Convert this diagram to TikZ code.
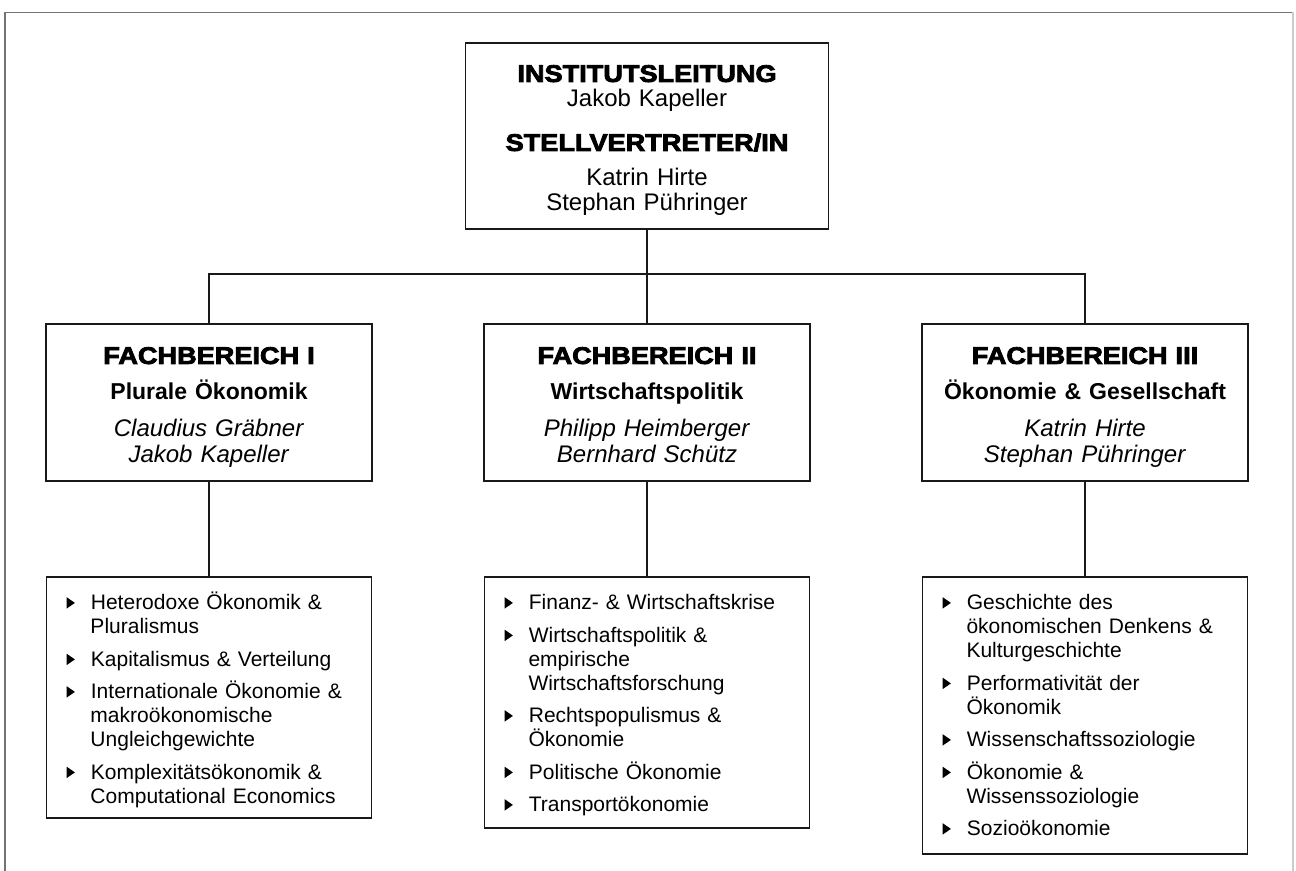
\documentclass[tikz,border=0pt]{standalone}
\usepackage{fontspec}
\setmainfont{Liberation Sans}
\newfontfamily\heavyfont[FakeStretch=1.13,FakeBold=3.5]{Liberation Sans Bold}
\usepackage{enumitem}

% small black triangle used as bullet
\newcommand{\pfeil}{\tikz[baseline=0pt]\fill (0pt,0.6pt) -- (4.2pt,3.5pt) -- (0pt,6.4pt) -- cycle;}
\newlist{themen}{itemize}{1}
\setlist[themen]{label=\pfeil,leftmargin=22pt,labelwidth=4pt,labelsep=8pt,align=left,
  itemsep=4.25pt,parsep=0pt,topsep=0pt,partopsep=0pt}

\begin{document}
\begin{tikzpicture}[x=0.5pt,y=-0.5pt]
    \newcommand{\mitte}{647}   % middle column
    \newcommand{\links}{209}   % left column
    \newcommand{\rechts}{1085} % right column
    \newcommand{\fbtop}{323}   % top of the Fachbereich boxes
    \newcommand{\listtop}{576} % top of the topic lists

    % set the styles of the boxes
    \tikzset{
        box/.style={draw=black!90, line width=0.9pt, inner xsep=0pt, inner ysep=0pt, anchor=north, align=center},
        leitung/.style={box, text width=181.5pt, text height=19.5pt, text depth=73.5pt,
            font=\fontsize{12pt}{12.5pt}\selectfont},
        fach/.style={box, text width=163pt, text height=20pt, text depth=58.5pt,
            font=\fontsize{12pt}{13pt}\selectfont},
        themenbox/.style={box, text width=162.5pt, inner ysep=4.5pt, text height=0pt, text depth=#1,
            align=left, font=\fontsize{10.5pt}{12pt}\selectfont},
        linie/.style={draw=black!90, line width=0.8pt}
    }

    \useasboundingbox (0,0) rectangle (1296,871);

    % frame
    \draw[black!55, line width=0.8pt] (5,871) -- (5,12.5) -- (1293,12.5);
    \draw[black!20, line width=0.8pt] (1293,12.5) -- (1293,871);

    % head of the institute
    \node[leitung] (leitung) at (\mitte,42) {{\heavyfont INSTITUTSLEITUNG}\\ Jakob Kapeller\\[9.5pt]
        {\heavyfont STELLVERTRETER/IN}\\[5pt] Katrin Hirte\\ Stephan Pühringer};

    % departments
    \node[fach] (fb1) at (\links,\fbtop) {{\heavyfont FACHBEREICH I}\\[5pt]
        {\fontsize{11.5pt}{13pt}\selectfont\bfseries Plurale Ökonomik}\\[5.5pt]
        \textit{Claudius Gräbner}\\ \textit{Jakob Kapeller}};
    \node[fach] (fb2) at (\mitte,\fbtop) {{\heavyfont FACHBEREICH II}\\[5pt]
        {\fontsize{11.5pt}{13pt}\selectfont\bfseries Wirtschaftspolitik}\\[5.5pt]
        \textit{Philipp Heimberger}\\ \textit{Bernhard Schütz}};
    \node[fach] (fb3) at (\rechts,\fbtop) {{\heavyfont FACHBEREICH III}\\[5pt]
        {\fontsize{11.5pt}{13pt}\selectfont\bfseries Ökonomie \& Gesellschaft}\\[5.5pt]
        \textit{Katrin Hirte}\\ \textit{Stephan Pühringer}};

    % topics
    \node[themenbox=111.5pt] (th1) at (\links,\listtop) {\begin{themen}
        \item Heterodoxe Ökonomik \&\\ Pluralismus
        \item Kapitalismus \& Verteilung
        \item Internationale Ökonomie \&\\ makroökonomische\\ Ungleichgewichte
        \item Komplexitätsökonomik \&\\ Computational Economics
    \end{themen}};
    \node[themenbox=116.5pt] (th2) at (\mitte,\listtop) {\begin{themen}
        \item Finanz- \& Wirtschaftskrise
        \item Wirtschaftspolitik \&\\ empirische\\ Wirtschaftsforschung
        \item Rechtspopulismus \&\\ Ökonomie
        \item Politische Ökonomie
        \item Transportökonomie
    \end{themen}};
    \node[themenbox=129.5pt] (th3) at (\rechts,\listtop) {\begin{themen}
        \item Geschichte des\\ ökonomischen Denkens \&\\ Kulturgeschichte
        \item Performativität der\\ Ökonomik
        \item Wissenschaftssoziologie
        \item Ökonomie \&\\ Wissenssoziologie
        \item Sozioökonomie
    \end{themen}};

    % connectors
    \coordinate (knick) at (\mitte,274);
    \draw[linie] (leitung.south) -- (knick);
    \draw[linie] (fb1.north) |- (knick) -| (fb3.north);
    \draw[linie] (knick) -- (fb2.north);
    \foreach \i in {1,2,3}
        \draw[linie] (fb\i.south) -- (th\i.north);

\end{tikzpicture}
\end{document}
